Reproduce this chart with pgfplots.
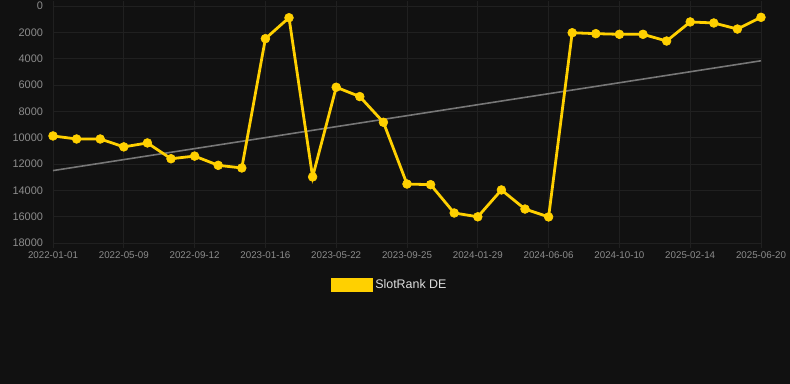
\documentclass[border=0pt]{standalone}
\usepackage{fontspec}
\setmainfont{Liberation Sans}
\usepackage{pgfplots}
\pgfplotsset{compat=1.18}
\definecolor{bg}{HTML}{111111}
\definecolor{gold}{HTML}{FFD000}
\definecolor{gridc}{HTML}{202020}
\definecolor{tickc}{HTML}{8C8C8C}
\definecolor{trend}{HTML}{777777}
\definecolor{legc}{HTML}{DDDDDD}
\begin{document}
\begin{tikzpicture}
\fill[bg] (0bp,0bp) rectangle (790bp,384bp);
\begin{axis}[
  at={(53bp,141bp)}, anchor=south west,
  scale only axis, width=708bp, height=237bp,
  xmin=0, xmax=30, ymin=0, ymax=18000, y dir=reverse,
  clip=false,
  scaled y ticks=false,
  axis line style={draw=none},
  grid=major, grid style={gridc, line width=0.8bp},
  xtick={0,3,...,30},
  xticklabels={2022-01-01,2022-05-09,2022-09-12,2023-01-16,2023-05-22,2023-09-25,2024-01-29,2024-06-06,2024-10-10,2025-02-14,2025-06-20},
  ytick={0,2000,...,18000},
  tick align=outside, major tick length=5bp,
  x tick style={gridc, line width=1bp},
  y tick style={draw=none},
  /pgf/number format/assume math mode=true,
  /pgf/number format/1000 sep={},
  yticklabel style={font=\fontsize{11}{13}\selectfont, text=tickc, xshift=-1.5bp},
  xticklabel style={font=\fontsize{9.8}{12}\selectfont, text=tickc},
  legend style={at={(0.476,-0.177)}, anchor=center, draw=none, fill=none,
    text=legc, font=\fontsize{12.5}{15}\selectfont},
  legend image code/.code={\fill[gold] (0bp,-5.5bp) rectangle (39bp,5.5bp);},
]
\addplot[trend, line width=1.6bp, forget plot] coordinates {(0,12500) (30,4160)};
\addplot[gold, line width=2.8bp, mark=*, mark size=4.4bp, mark options={solid, fill=gold, draw=gold, line width=0.6bp}] coordinates {
(0,9870) (1,10100) (2,10100) (3,10700) (4,10400) (5,11600) (6,11400) (7,12100) (8,12300)
(9,2480) (10,890) (11,12980) (12,6170) (13,6880) (14,8830) (15,13520) (16,13570)
(17,15720) (18,16010) (19,13970) (20,15420) (21,16020) (22,2030) (23,2100) (24,2150)
(25,2150) (26,2660) (27,1210) (28,1290) (29,1750) (30,860)};
\addlegendentry{SlotRank DE}
\end{axis}
\pgfresetboundingbox
\path (0bp,0bp) rectangle (790bp,384bp);
\end{tikzpicture}
\end{document}
